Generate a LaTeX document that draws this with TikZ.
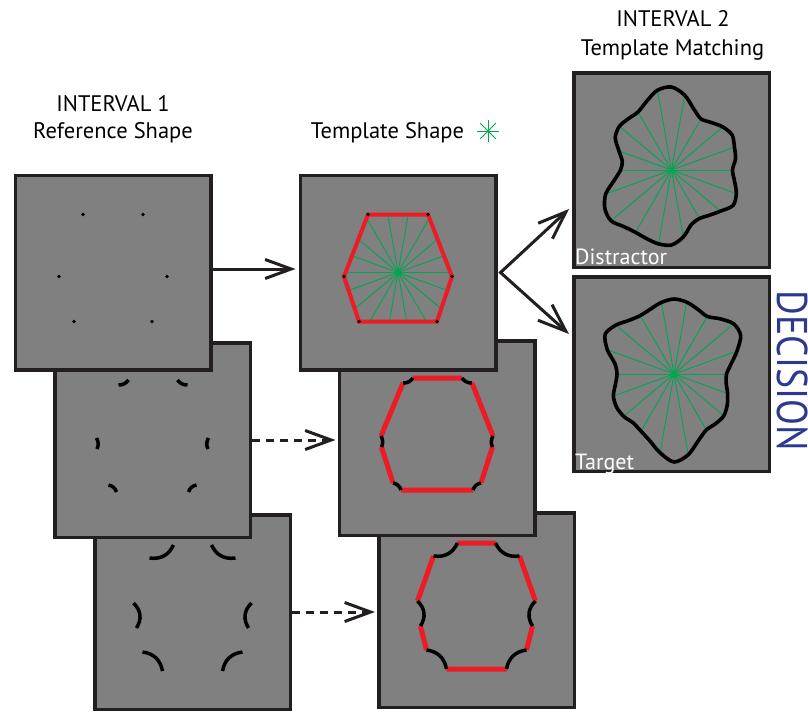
\documentclass[tikz,border=0pt]{standalone}
\usepackage{fontspec}
\usepackage{graphicx}
\setmainfont{PT Sans}
\usetikzlibrary{arrows.meta,intersections}
\definecolor{panelgray}{HTML}{808080}
\definecolor{edgecol}{HTML}{231F20}
\definecolor{tred}{HTML}{ED1C24}
\definecolor{tgreen}{HTML}{00A651}
\definecolor{dblue}{HTML}{2B3990}

% level 1: dots at hexagon vertices
\newcommand\fragsOne{%
  \foreach \vx/\vy in {-30/-58,30/-58,54/4,39/49,-39/49,-54/4}
    \fill[black] (\vx,\vy) circle[radius=1.9];}
\newcommand\redOne{%
  \draw[redline, line width=4pt, line join=miter] (-30,-58) -- (30,-58) -- (54,4) -- (39,49) -- (-39,49) -- (-54,4) -- cycle;}
% level 2
\newcommand\fragsTwo{%
  \draw[frag] (-34,-55) .. controls (-29.8,-54.9) and (-26.5,-56.5) .. (-24,-60)
              (25,-60) .. controls (27.5,-56.5) and (30.8,-54.9) .. (35,-55)
              (56,-2) .. controls (53.9,1.7) and (53.7,5.3) .. (55.5,9)
              (44,45) .. controls (40,45.8) and (37.3,48.1) .. (36,52)
              (-36,52) .. controls (-37.3,48.1) and (-40,45.8) .. (-44,45)
              (-55.5,9) .. controls (-53.7,5.3) and (-53.9,1.7) .. (-56,-2);}
\newcommand\redTwo{%
  \draw[redline] (-24,-60) -- (25,-60) (35,-55) -- (56,-2) (55.5,9) -- (44,45)
                 (36,52) -- (-36,52) (-44,45) -- (-55.5,9) (-56,-2) -- (-34,-55);}
% level 3
\newcommand\fragsThree{%
  \draw[frag] (-43,-54) .. controls (-31.8,-52.5) and (-23.8,-56.8) .. (-19,-67)
              (19,-67) .. controls (23.8,-56.8) and (31.8,-52.5) .. (43,-54)
              (59,-9) .. controls (51.4,-1.5) and (50.4,6.9) .. (56,16)
              (50,40) .. controls (38.7,41.5) and (32.1,47.9) .. (30,59)
              (-30,59) .. controls (-32.1,47.9) and (-38.7,41.5) .. (-50,40)
              (-56,16) .. controls (-50.4,6.9) and (-51.4,-1.5) .. (-59,-9);}
\newcommand\redThree{%
  \draw[redline] (-19,-67) -- (19,-67) (43,-54) -- (59,-9) (56,16) -- (50,40)
                 (30,59) -- (-30,59) (-50,40) -- (-56,16) (-59,-9) -- (-43,-54);}
% blob with spokes: #1 prefix, #2 36 radii (every 10 degrees)
\newcommand\blob[2]{%
  \foreach \r [count=\i from 0] in {#2} { \coordinate (#1\i) at ({\i*10}:\r); }
  \foreach \j in {0,2,...,34} \draw[spoke] (0,0) -- (#1\j);
  \fill[tgreen] (0,0) circle[radius=1.6];
  \draw[blobline] plot[smooth cycle] coordinates {(#10) (#11) (#12) (#13) (#14) (#15) (#16) (#17) (#18) (#19)
    (#110) (#111) (#112) (#113) (#114) (#115) (#116) (#117) (#118) (#119)
    (#120) (#121) (#122) (#123) (#124) (#125) (#126) (#127) (#128) (#129)
    (#130) (#131) (#132) (#133) (#134) (#135)};}

\begin{document}
\begin{tikzpicture}[x=1pt,y=-1pt,
  panel/.style={draw=edgecol, fill=panelgray, line width=3.5pt, minimum width=195.5pt, minimum height=194.5pt, inner sep=0pt},
  frag/.style={draw=black, line width=3.5pt},
  redline/.style={draw=tred, line width=5pt},
  spoke/.style={draw=tgreen, line width=0.9pt},
  blobline/.style={draw=black, line width=3.6pt},
  lbl/.style={font=\fontsize{22.5}{26}\selectfont, text=black, inner sep=0pt},
  wlbl/.style={font=\fontsize{22}{26}\selectfont, text=white, inner sep=0pt},
  arr/.style={draw=edgecol, line width=3pt, -{Straight Barb[length=26pt,width=19pt]}},
  dasharr/.style={arr, dash pattern=on 8pt off 6pt}]
\useasboundingbox (0,0) rectangle (808,712);

% ---- column 1 ----
\node[panel] (a3) at (192.5,612) {};
\begin{scope}[shift={(a3)}] \fragsThree \end{scope}
\node[panel] (a2) at (152.5,440) {};
\begin{scope}[shift={(a2)}] \fragsTwo \end{scope}
\node[panel] (a1) at (113,272.5) {};
\begin{scope}[shift={(a1)}] \fragsOne \end{scope}

% ---- column 2 ----
\node[panel] (b3) at (476.5,610) {};
\begin{scope}[shift={(b3)}] \redThree \fragsThree \end{scope}
\node[panel] (b2) at (437,438) {};
\begin{scope}[shift={(b2)}] \redTwo \fragsTwo \end{scope}
\node[panel] (b1) at (398,272.5) {};
\begin{scope}[shift={(b1)}]
  \path[name path=hex] (-30,-58) -- (30,-58) -- (54,4) -- (39,49) -- (-39,49) -- (-54,4) -- cycle;
  \foreach \a in {0,20,...,340} {
    \path[name path=ray] (0,0) -- (\a:120);
    \draw[spoke, name intersections={of=hex and ray}] (0,0) -- (intersection-1);
  }
  \fill[tgreen] (0,0) circle[radius=1.6];
  \redOne
  \fragsOne
\end{scope}

% ---- column 3 ----
\node[panel] (c1) at (671.5,170) {};
\begin{scope}[shift={(c1)}, yscale=-1]
  \blob{d}{61,65,67,70,67,62,59,65,76,83,81,73,67,67,68,65,56,50,51,58,70,77,79,74,72,73,75,75,68,58,56,59,64,71,69,64}
\end{scope}
\node[panel] (c2) at (671.5,374) {};
\begin{scope}[shift={(c2)}, xshift=2.5pt, yscale=-1]
  \blob{t}{52.5,58,67,77,78,72,66.5,69,73,75,72.7,69,67.5,70,76,79.5,71,60,57,59.5,64.5,66.3,65.8,63.7,66,71,80,88,82,71,64.6,64.8,65,61.5,57,53}
\end{scope}

% ---- labels ----
\node[lbl, anchor=base] (int1) at (113,111.5) {INTERVAL 1};
\node[lbl, anchor=base] (ref1) at (113,138) {Reference Shape};
\node[lbl, anchor=base] (tshape) at (387.5,138.3) {Template Shape};
\coordinate (ast) at (488,131);
\begin{scope}[shift={(ast)}]
  \foreach \a in {0,45,90,135} \draw[tgreen, line width=1pt] (\a:11) -- ({\a+180}:11);
  \fill[tgreen] (0,0) circle[radius=1.5];
\end{scope}
\node[lbl, anchor=base] (int2) at (673,26.7) {INTERVAL 2};
\node[lbl, anchor=base] (tmatch) at (672.5,55) {Template Matching};
\node[wlbl, anchor=base west] (dist) at (575,264) {Distractor};
\node[wlbl, anchor=base west] (targ) at (575,469) {Target};
\node[rotate=-90, text=dblue, inner sep=0pt, font=\fontsize{43}{50}\selectfont] (dec) at (793,371) {\scalebox{0.88}[1]{DECISION}};

% ---- connectors ----
\draw[arr, shorten >=3pt] ([yshift=3.5pt]a1.east) -- ([yshift=3.5pt]b1.west);
\draw[dasharr, shorten >=2pt] (a2.east) -- (b2.west |- a2.east);
\draw[dasharr, shorten >=2pt] (a3.east) -- (b3.west |- a3.east);
\coordinate (c1in) at (569,209);
\coordinate (c2in) at (569,334);
\draw[draw=edgecol, line width=3pt, line join=miter,
  {Straight Barb[length=28pt,width=21pt]}-{Straight Barb[length=28pt,width=21pt]}]
  (c1in) -- ([xshift=3pt]b1.east) -- (c2in);
\end{tikzpicture}
\end{document}
